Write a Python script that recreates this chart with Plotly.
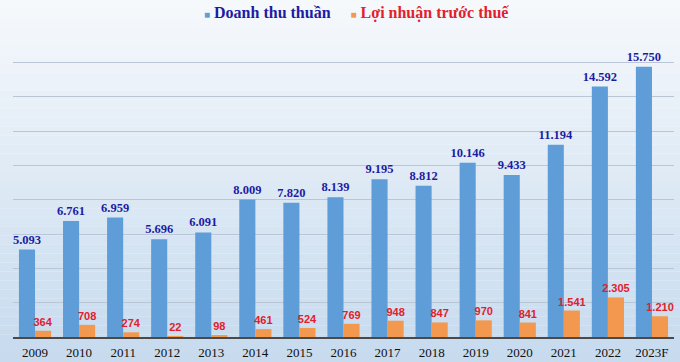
import plotly.graph_objects as go

years = ["2009", "2010", "2011", "2012", "2013", "2014", "2015", "2016",
         "2017", "2018", "2019", "2020", "2021", "2022", "2023F"]
revenue = [5093, 6761, 6959, 5696, 6091, 8009, 7820, 8139,
           9195, 8812, 10146, 9433, 11194, 14592, 15750]
profit = [364, 708, 274, 22, 98, 461, 524, 769,
          948, 847, 970, 841, 1541, 2305, 1210]

def fmt(v):
    return f"{v:,}".replace(",", ".")

BLUE_BAR = "#5e9dd7"
ORANGE_BAR = "#f2994f"
BLUE_TXT = "#1c1ca3"
RED_TXT = "#e2202b"

fig = go.Figure()
fig.add_trace(go.Bar(
    x=years, y=revenue, name="Doanh thu thuần",
    marker=dict(color=BLUE_BAR, line=dict(width=0)),
    text=[fmt(v) for v in revenue], textposition="outside",
    textfont=dict(family="Liberation Serif", size=12.5, color=BLUE_TXT, weight="bold"),
    constraintext="none", cliponaxis=False, showlegend=False,
))
fig.add_trace(go.Bar(
    x=years, y=profit, name="Lợi nhuận trước thuế",
    marker=dict(color=ORANGE_BAR, line=dict(width=0)),
    text=[fmt(v) for v in profit], textposition="outside",
    textfont=dict(family="Liberation Sans", size=11, color=RED_TXT, weight="bold"),
    constraintext="none", cliponaxis=False, showlegend=False,
))

# background gradient (top whitish -> bottom light blue)
top = (246, 249, 252)
bot = (198, 218, 238)
n = 40
H = 362.0
plot_top, plot_bot = 28.0, 337.0
ph = plot_bot - plot_top
shapes = []
for i in range(n):
    y0px = H * i / n
    y1px = H * (i + 1) / n
    t = (i + 0.5) / n
    c = tuple(int(round(top[k] + (bot[k] - top[k]) * t)) for k in range(3))
    shapes.append(dict(
        type="rect", xref="paper", yref="paper", layer="below",
        x0=-0.05, x1=1.05,
        y0=1 - (y1px - plot_top) / ph, y1=1 - (y0px - plot_top) / ph,
        fillcolor=f"rgb{c}", line=dict(width=0),
    ))

fig.update_layout(
    width=680, height=362,
    margin=dict(l=13, r=6, t=28, b=25, autoexpand=False),
    paper_bgcolor="rgb(246,249,252)",
    plot_bgcolor="rgba(0,0,0,0)",
    barmode="group", bargap=0.27, bargroupgap=0.0,
    shapes=shapes,
    xaxis=dict(
        showgrid=False, showline=True, linecolor="#4a4a4a", linewidth=2,
        tickfont=dict(family="Liberation Serif", size=13, color="#111111"),
        ticks="", ticklabelstandoff=2, automargin=False,
    ),
    yaxis=dict(
        range=[0, 18000], dtick=2000, showticklabels=False,
        showgrid=True, gridcolor="#b8c6d6", gridwidth=1,
        zeroline=False, showline=False, automargin=False,
    ),
    annotations=[dict(
        xref="paper", yref="paper", x=0.52, y=1 + 15 / ph,
        xanchor="center", yanchor="middle", showarrow=False,
        text=(f"<span style='color:{BLUE_BAR};font-size:10px'>■</span> "
              f"<span style='color:{BLUE_TXT}'><b>Doanh thu thuần</b></span>"
              f"     "
              f"<span style='color:{ORANGE_BAR};font-size:10px'>■</span> "
              f"<span style='color:{RED_TXT}'><b>Lợi nhuận trước thuế</b></span>"),
        font=dict(family="Liberation Serif", size=16),
    )],
)

fig.write_html(
    "out.html",
    config={"displayModeBar": False},
    post_script="document.body.style.margin='0';document.body.style.overflow='hidden';",
)
